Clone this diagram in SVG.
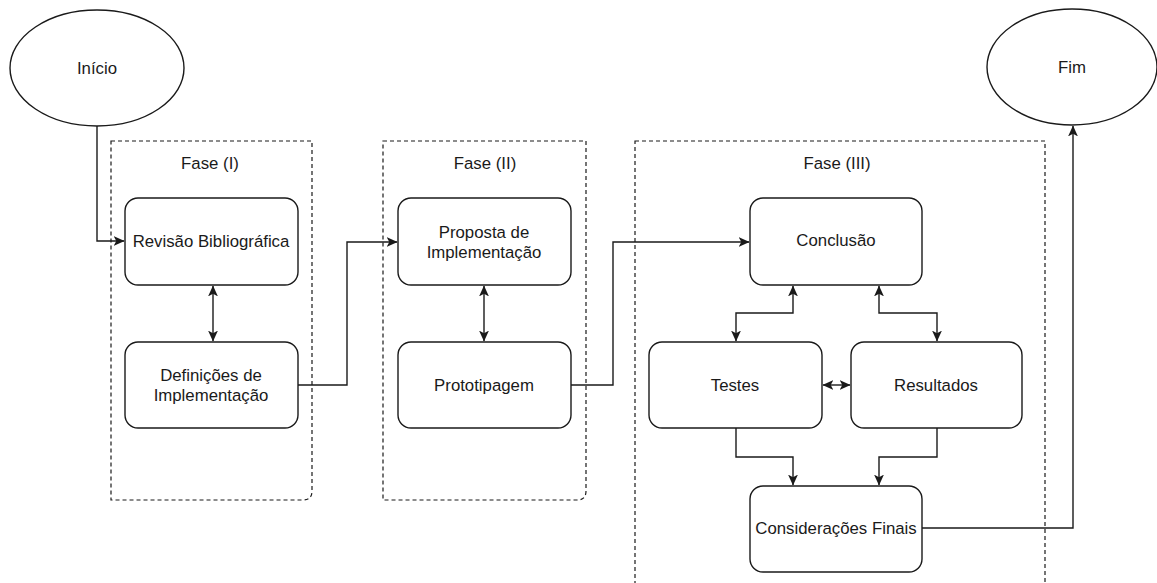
<svg xmlns="http://www.w3.org/2000/svg" width="1157" height="583" viewBox="0 0 1157 583">
<defs>
<style>
.t{font-family:"Liberation Sans",Arial,sans-serif;font-size:16.8px;fill:#1a1a1a;text-anchor:middle;dominant-baseline:central}
.box{fill:#fff;stroke:#1a1a1a;stroke-width:1.4}
.grp{fill:none;stroke:#1a1a1a;stroke-width:1.2;stroke-dasharray:4 3}
.c{fill:none;stroke:#1a1a1a;stroke-width:1.4}
</style>
<marker id="ah" viewBox="0 0 10 10" refX="9.5" refY="5" markerWidth="11" markerHeight="11" markerUnits="userSpaceOnUse" orient="auto-start-reverse">
<path d="M0,0.5 L10,5 L0,9.5 L2.5,5 Z" fill="#1a1a1a"/>
</marker>
</defs>
<rect width="1157" height="583" fill="#fff"/>
<g id="fase1"><path class="grp" d="M111,141 H312 V491 Q312,500 303,500 H111 Z"/><text class="t" x="210" y="163">Fase (I)</text></g>
<g id="fase2"><path class="grp" d="M383,141 H586 V491 Q586,500 577,500 H383 Z"/><text class="t" x="485" y="163">Fase (II)</text></g>
<g id="fase3"><path class="grp" d="M635,141 H1045 V590 H635 Z"/><text class="t" x="837" y="163">Fase (III)</text></g>
<g id="inicio"><ellipse class="box" cx="97" cy="68" rx="87" ry="58"/><text class="t" x="97" y="68">Início</text></g>
<g id="fim"><ellipse class="box" cx="1072" cy="67" rx="85" ry="58"/><text class="t" x="1072" y="67">Fim</text></g>
<g id="revisao"><rect class="box" x="125" y="198" width="173" height="87" rx="13"/><text class="t" x="211" y="241">Revisão Bibliográfica</text></g>
<g id="definicoes"><rect class="box" x="125" y="342" width="173" height="86" rx="13"/><text class="t" x="211" y="375">Definições de</text><text class="t" x="211" y="395">Implementação</text></g>
<g id="proposta"><rect class="box" x="398" y="198" width="173" height="87" rx="13"/><text class="t" x="484" y="232">Proposta de</text><text class="t" x="484" y="252">Implementação</text></g>
<g id="prototipagem"><rect class="box" x="398" y="342" width="173" height="86" rx="13"/><text class="t" x="484" y="385">Prototipagem</text></g>
<g id="conclusao"><rect class="box" x="750" y="198" width="172" height="87" rx="13"/><text class="t" x="836" y="240">Conclusão</text></g>
<g id="testes"><rect class="box" x="649" y="342" width="173" height="86" rx="13"/><text class="t" x="735" y="385">Testes</text></g>
<g id="resultados"><rect class="box" x="851" y="342" width="171" height="86" rx="13"/><text class="t" x="936" y="385">Resultados</text></g>
<g id="consideracoes"><rect class="box" x="750" y="486" width="172" height="86" rx="13"/><text class="t" x="836" y="528">Considerações Finais</text></g>
<g id="connectors">
<path class="c" d="M97,126 V241 H124" marker-end="url(#ah)"/>
<path class="c" d="M213,286 V341" marker-start="url(#ah)" marker-end="url(#ah)"/>
<path class="c" d="M298,385 H347 V242 H397" marker-end="url(#ah)"/>
<path class="c" d="M484,286 V341" marker-start="url(#ah)" marker-end="url(#ah)"/>
<path class="c" d="M571,385 H613 V242 H749" marker-end="url(#ah)"/>
<path class="c" d="M793,286 V313 H736 V341" marker-start="url(#ah)" marker-end="url(#ah)"/>
<path class="c" d="M879,286 V313 H937 V341" marker-start="url(#ah)" marker-end="url(#ah)"/>
<path class="c" d="M823,385 H850" marker-start="url(#ah)" marker-end="url(#ah)"/>
<path class="c" d="M736,428 V457 H793 V485" marker-end="url(#ah)"/>
<path class="c" d="M937,428 V457 H879 V485" marker-end="url(#ah)"/>
<path class="c" d="M922,528 H1073 V126" marker-end="url(#ah)"/>
</g>
</svg>
